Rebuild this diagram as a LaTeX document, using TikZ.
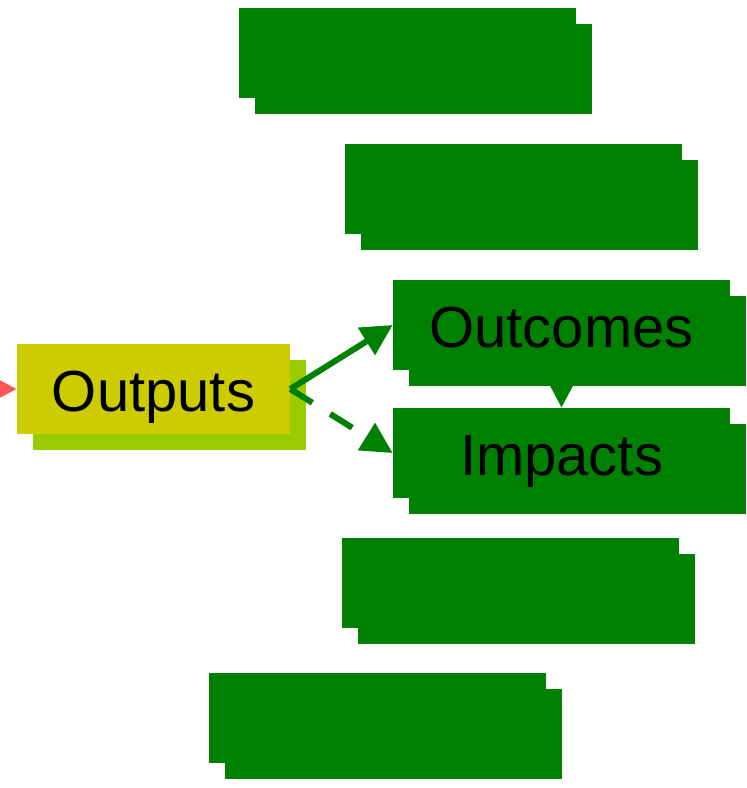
\documentclass[tikz,border=0pt]{standalone}
\usepackage{fontspec}
\setmainfont{Liberation Sans}
\usetikzlibrary{positioning, arrows.meta, shadows, backgrounds}

\definecolor{boxgreen}{RGB}{0,128,0}
\definecolor{outyellow}{RGB}{204,204,0}
\definecolor{outshadow}{RGB}{153,204,0}
\definecolor{inred}{RGB}{255,85,85}

\begin{document}
\begin{tikzpicture}[
    x=0.02cm, y=0.02cm,
    >={Triangle[length=0.62cm, width=0.62cm]},
    goal/.style={rectangle, fill=boxgreen, minimum width=6.74cm, minimum height=1.8cm,
      inner sep=0pt, text height=0.88cm, text depth=0pt, font=\fontsize{33}{40}\selectfont,
      general shadow={fill=boxgreen, shadow xshift=0.32cm, shadow yshift=-0.32cm}},
    outbox/.style={goal, fill=outyellow, minimum width=5.46cm,
      general shadow={fill=outshadow, shadow xshift=0.32cm, shadow yshift=-0.32cm}},
    link/.style={->, draw=boxgreen, line width=0.12cm},
  ]
  \useasboundingbox (0,0) rectangle (747,-788);
  \clip (0,0) rectangle (747,-788);

  %% --- Green boxes (no text) ---
  \node[goal] (top1) at (407.5, -53) {};
  \node[goal] (top2) at (513.5, -189) {};
  \node[goal] (bot1) at (510.5, -583) {};
  \node[goal] (bot2) at (377.5, -718) {};

  %% --- Labelled boxes ---
  \node[goal] (outcomes) at (561.5, -325) {Outcomes};
  \node[goal] (impacts) at (561.5, -453) {Impacts};
  \node[outbox] (outputs) at (153.5, -389) {Outputs};

  %% --- Edges ---
  % incoming arrow from the left, only its tip shows
  \coordinate (inflow) at (-120, -389);
  \draw[->, draw=inred, fill=inred, line width=0.12cm] (inflow) -- (outputs.west);

  \draw[link] (outputs.east) -- (outcomes.west);
  \draw[link, dash pattern=on 0.52cm off 0.42cm] (outputs.east) -- (impacts.west);

  % outcomes -> impacts, behind the boxes
  \begin{scope}[on background layer]
    \draw[link] (outcomes.south) -- (impacts.north);
  \end{scope}
\end{tikzpicture}
\end{document}
